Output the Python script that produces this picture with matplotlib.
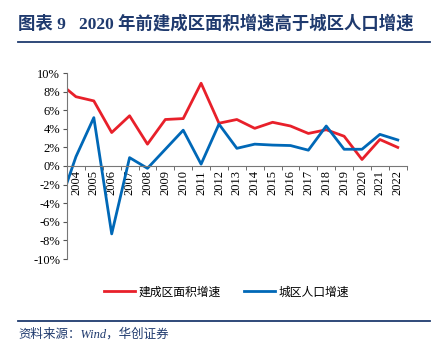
import numpy as np
import matplotlib
matplotlib.use('Agg')
import matplotlib.pyplot as plt

plt.rcParams['font.family'] = ['Liberation Serif', 'Noto Sans CJK SC']

#Data (first point sits on the axis, unlabeled)
years = ['2003', '2004', '2005', '2006', '2007', '2008', '2009', '2010', '2011', '2012',
         '2013', '2014', '2015', '2016', '2017', '2018', '2019', '2020', '2021', '2022']
area_growth = [8.25, 7.45, 7.0, 3.6, 5.4, 2.35, 5.0, 5.1, 8.9, 4.6,
               5.0, 4.05, 4.7, 4.3, 3.5, 3.9, 3.2, 0.7, 2.85, 2.0]
pop_growth = [-1.8, 1.0, 5.2, -7.3, 0.9, -0.25, 1.8, 3.85, 0.2, 4.5,
              1.9, 2.35, 2.25, 2.2, 1.7, 4.3, 1.8, 1.8, 3.4, 2.8]
yticks = [-10, -8, -6, -4, -2, 0, 2, 4, 6, 8, 10]

red = '#E8202A'
blue = '#0068B7'
navy = '#1F3A6E'

W, H = 439, 348
fig = plt.figure(figsize=(W/100, H/100), dpi=100)
ax = fig.add_axes([67/W, 1-259/H, (406.7-67)/W, (259-73)/H])

#spine position first - it resets tick settings
for s in ['top', 'right']:
    ax.spines[s].set_visible(False)
ax.spines['bottom'].set_position(('data', 0))
ax.spines['bottom'].set_color('#777777')
ax.spines['left'].set_color('#777777')

x = np.arange(len(years)).astype(float)
x[0] = 0.5
ax.plot(x, np.array(area_growth)/100, color=red, lw=2.0, label='建成区面积增速')
ax.plot(x, np.array(pop_growth)/100, color=blue, lw=2.0, label='城区人口增速')

ax.set_xlim(0.5, len(years)-0.5)
ax.set_ylim(-0.10, 0.10)
ax.set_yticks([v/100 for v in yticks])
ax.set_yticklabels(['%d%%' % v for v in yticks], fontsize=9)

ax.set_xticks(np.arange(1, len(years)))
ax.set_xticklabels(years[1:], rotation=90, fontsize=9, va='top', ha='center')
ax.set_xticks(np.arange(0.5, len(years)), minor=True)
ax.tick_params(axis='x', which='major', length=0, pad=3)
ax.tick_params(axis='x', which='minor', length=3, direction='out', color='#555555')
ax.tick_params(axis='y', length=3, direction='out', color='#555555', pad=2)

ax.legend(loc='upper center', bbox_to_anchor=(0.47, -0.085), ncol=2, frameon=False,
          handlelength=2.6, columnspacing=2.0, handletextpad=0.3,
          prop={'family': ['Noto Sans CJK SC'], 'size': 8.5})

#Title and source
fig.text(18/W, 1-24/H, '图表 9   2020 年前建成区面积增速高于城区人口增速', color=navy,
         fontsize=12.5, fontweight='bold', va='center', ha='left',
         family=['Liberation Serif', 'Noto Sans CJK SC'])
fig.add_artist(plt.Line2D([18/W, 430/W], [1-42/H, 1-42/H], color=navy, lw=1.3))
fig.add_artist(plt.Line2D([18/W, 430/W], [1-321/H, 1-321/H], color=navy, lw=1.3))
fig.text(18/W, 1-334/H, '资料来源：Wind，华创证券', color=navy, fontsize=9, style='italic',
         va='center', ha='left', family=['Liberation Serif', 'Noto Sans CJK SC'])

fig.savefig('out.png', dpi=100)
